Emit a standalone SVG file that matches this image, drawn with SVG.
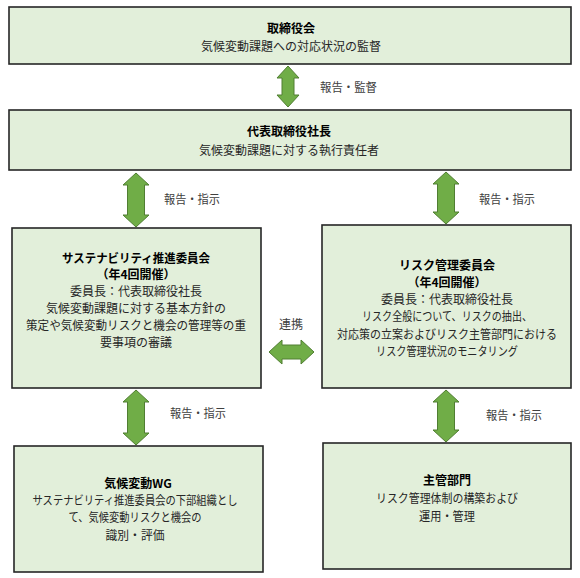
<svg xmlns="http://www.w3.org/2000/svg" width="580" height="578" viewBox="0 0 580 578">
<style>
  .box { fill: #E2EFDA; stroke: #262626; stroke-width: 1.6; }
  .arrow { fill: #70AD47; stroke: #507E32; stroke-width: 1; stroke-linejoin: miter; }
  text { font-family: "Noto Sans CJK JP", "Noto Sans", sans-serif; font-size: 12px; text-anchor: middle; }
  .title { font-weight: bold; fill: #000000; }
  .body { fill: #262626; }
  .label { fill: #404040; text-anchor: start; }
</style>
<rect width="580" height="578" fill="#FFFFFF"/>

<g id="connectors">
  <polygon class="arrow" points="288,66 299,78 294,78 294,95 299,95 288,107 277,95 282,95 282,78 277,78"/>
  <polygon class="arrow" points="136,173 149,185 144.5,185 144.5,215 149,215 136,227 123,215 127.5,215 127.5,185 123,185"/>
  <polygon class="arrow" points="446,172 459,184 454.5,184 454.5,212 459,212 446,224 433,212 437.5,212 437.5,184 433,184"/>
  <polygon class="arrow" points="136,390 149,402 144.5,402 144.5,433 149,433 136,445 123,433 127.5,433 127.5,402 123,402"/>
  <polygon class="arrow" points="446,390 459,402 454.5,402 454.5,430 459,430 446,442 433,430 437.5,430 437.5,402 433,402"/>
  <polygon class="arrow" points="269,352 282,340 282,345 301,345 301,340 314,352 301,364 301,359 282,359 282,364"/>
  <text class="label" x="320" y="91.5" textLength="57" lengthAdjust="spacingAndGlyphs">報告・監督</text>
  <text class="label" x="164" y="204" textLength="56" lengthAdjust="spacingAndGlyphs">報告・指示</text>
  <text class="label" x="479" y="204" textLength="56" lengthAdjust="spacingAndGlyphs">報告・指示</text>
  <text class="label" x="170" y="418" textLength="56" lengthAdjust="spacingAndGlyphs">報告・指示</text>
  <text class="label" x="486" y="420" textLength="56" lengthAdjust="spacingAndGlyphs">報告・指示</text>
  <text class="label" x="279" y="328.5">連携</text>
</g>

<g id="board">
  <rect class="box" x="9" y="7" width="562" height="57"/>
  <text class="title" x="291" y="33">取締役会</text>
  <text class="body" x="291" y="50.5">気候変動課題への対応状況の監督</text>
</g>

<g id="ceo">
  <rect class="box" x="9" y="110" width="562" height="60"/>
  <text class="title" x="289" y="136">代表取締役社長</text>
  <text class="body" x="289" y="154.5">気候変動課題に対する執行責任者</text>
</g>

<g id="sustainability-committee">
  <rect class="box" x="12" y="228" width="249" height="160"/>
  <text class="title" x="136" y="262.5" textLength="148" lengthAdjust="spacingAndGlyphs">サステナビリティ推進委員会</text>
  <text class="title" x="136" y="279.4">（年4回開催）</text>
  <text class="body" x="136" y="296.3">委員長：代表取締役社長</text>
  <text class="body" x="136" y="313.2">気候変動課題に対する基本方針の</text>
  <text class="body" x="136" y="330.1" textLength="220" lengthAdjust="spacingAndGlyphs">策定や気候変動リスクと機会の管理等の重</text>
  <text class="body" x="136" y="347">要事項の審議</text>
</g>

<g id="risk-committee">
  <rect class="box" x="322" y="225" width="249" height="163"/>
  <text class="title" x="447" y="269.5">リスク管理委員会</text>
  <text class="title" x="447" y="286.8">（年4回開催）</text>
  <text class="body" x="447" y="304.1">委員長：代表取締役社長</text>
  <text class="body" x="447" y="321.4" textLength="170" lengthAdjust="spacingAndGlyphs">リスク全般について、リスクの抽出、</text>
  <text class="body" x="447" y="338.7" textLength="220" lengthAdjust="spacingAndGlyphs">対応策の立案およびリスク主管部門における</text>
  <text class="body" x="447" y="356" textLength="142" lengthAdjust="spacingAndGlyphs">リスク管理状況のモニタリング</text>
</g>

<g id="climate-wg">
  <rect class="box" x="14" y="446" width="249" height="126"/>
  <text class="title" x="138" y="488">気候変動WG</text>
  <text class="body" x="135" y="505.2" textLength="205" lengthAdjust="spacingAndGlyphs">サステナビリティ推進委員会の下部組織とし</text>
  <text class="body" x="135" y="522.4" textLength="133" lengthAdjust="spacingAndGlyphs">て、気候変動リスクと機会の</text>
  <text class="body" x="135" y="539.6" textLength="59" lengthAdjust="spacingAndGlyphs">識別・評価</text>
</g>

<g id="responsible-departments">
  <rect class="box" x="323" y="443" width="248" height="126"/>
  <text class="title" x="447" y="484.5">主管部門</text>
  <text class="body" x="447" y="502.8" textLength="142" lengthAdjust="spacingAndGlyphs">リスク管理体制の構築および</text>
  <text class="body" x="447" y="521" textLength="56" lengthAdjust="spacingAndGlyphs">運用・管理</text>
</g>
</svg>
